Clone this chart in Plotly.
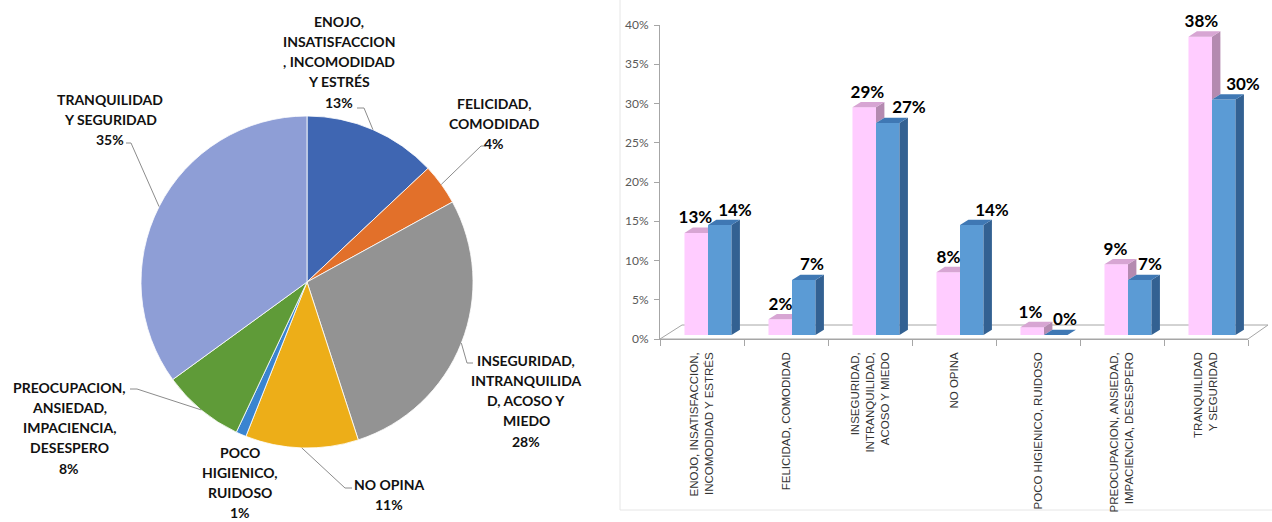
import math
import plotly.graph_objects as go

# ---------------- data ----------------
pie_names = [
    "ENOJO,<br>INSATISFACCION<br>, INCOMODIDAD<br>Y ESTRÉS",
    "FELICIDAD,<br>COMODIDAD",
    "INSEGURIDAD,<br>INTRANQUILIDA<br>D, ACOSO Y<br>MIEDO",
    "NO OPINA",
    "POCO<br>HIGIENICO,<br>RUIDOSO",
    "PREOCUPACION,<br>ANSIEDAD,<br>IMPACIENCIA,<br>DESESPERO",
    "TRANQUILIDAD<br>Y SEGURIDAD",
]
pie_values = [13, 4, 28, 11, 1, 8, 35]

bar_categories = [
    "ENOJO, INSATISFACCION,<br>INCOMODIDAD Y ESTRÉS",
    "FELICIDAD, COMODIDAD",
    "INSEGURIDAD,<br>INTRANQUILIDAD,<br>ACOSO Y MIEDO",
    "NO OPINA",
    "POCO HIGIENICO, RUIDOSO",
    "PREOCUPACION, ANSIEDAD,<br>IMPACIENCIA, DESESPERO",
    "TRANQUILIDAD<br>Y SEGURIDAD",
]
serie_rosa = [0.13, 0.02, 0.29, 0.08, 0.01, 0.09, 0.38]
serie_azul = [0.14, 0.07, 0.27, 0.14, 0.00, 0.07, 0.30]
y_tick_vals = [0.00, 0.05, 0.10, 0.15, 0.20, 0.25, 0.30, 0.35, 0.40]

# ---------------- styles / layout geometry ----------------
W, H = 1272, 522


def px(x):
    return x / W


def py(y):
    return 1 - y / H


pie_colors = ["#3F66B2", "#E2702A", "#939393", "#EDAE18", "#3A84D0", "#5F9B38", "#8E9ED6"]
PIE_CX, PIE_CY, PIE_R = 307, 282, 166

# label block: centre x, first-line y ; leader path after the slice edge (elbow, end)
pie_label_pos = [(339, 21), (494, 103), (526, 360), (389, 484), (240, 452), (69, 387), (110, 99)]
pie_leaders = [
    [(364, 108), (357, 108)],
    [(481, 146), (486, 146)],
    [(467, 363), (473, 363)],
    [(345, 488), (352, 488)],
    None,
    [(137, 389), (130, 389)],
    [(131, 143), (126, 143)],
]
LINE_STEP = 20.3

PINK, PINK_TOP, PINK_SIDE = "#FFCCFF", "#D7A5D3", "#B48AB0"
BLUE, BLUE_TOP, BLUE_SIDE = "#5B9BD5", "#3F78B4", "#336192"
AXIS_GREY = "#A6A6A6"

CAT_PX = 84.0              # width of one category in pixels
BAR_W = 0.28               # bar width in category units
DX, DY = 0.10, 0.0068      # 3-D depth offsets (category units, value units)
label_shift_rosa = [-5, -4, -1, -4, -6, -5, -3]   # px
label_shift_azul = [11, 4, 17, 16, 5, 6, 15]      # px

fig = go.Figure()

# ---------------- pie ----------------
fig.add_trace(go.Pie(
    values=pie_values,
    labels=[n.replace("<br>", " ") for n in pie_names],
    sort=False,
    direction="clockwise",
    rotation=0,
    marker=dict(colors=pie_colors, line=dict(color="rgba(255,255,255,0.8)", width=1)),
    textinfo="none",
    hoverinfo="label+percent",
    showlegend=False,
    domain=dict(x=[px(PIE_CX - PIE_R), px(PIE_CX + PIE_R)],
                y=[py(PIE_CY + PIE_R), py(PIE_CY - PIE_R)]),
))

annotations = []
shapes = []
total = sum(pie_values)
cum = 0
for name, val, (lx, ly), leader in zip(pie_names, pie_values, pie_label_pos, pie_leaders):
    mid = (cum + val / 2) / total
    cum += val
    ang = 2 * math.pi * mid
    ex = PIE_CX + PIE_R * math.sin(ang)
    ey = PIE_CY - PIE_R * math.cos(ang)
    lines = name.split("<br>") + [f"{round(100 * val / total)}%"]
    for k, txt in enumerate(lines):
        annotations.append(dict(
            x=px(lx), y=py(ly + k * LINE_STEP), xref="paper", yref="paper",
            text=txt, showarrow=False, xanchor="center", yanchor="middle",
            font=dict(family="Lato", size=14, color="#111111", weight="bold"),
        ))
    if leader:
        pts = [(ex, ey)] + leader
        path = "M " + " L ".join(f"{px(a)},{py(b)}" for a, b in pts)
        shapes.append(dict(type="path", path=path, xref="paper", yref="paper",
                           line=dict(color="#8C8C8C", width=1)))

# ---------------- 3-D style bars ----------------
n = len(bar_categories)
xs = list(range(n))

# invisible traces so the front axes (value scale and category labels) get drawn
fig.add_trace(go.Scatter(x=[xs[0]], y=[0], mode="markers", marker=dict(opacity=0),
                         xaxis="x", yaxis="y", hoverinfo="skip", showlegend=False))
fig.add_trace(go.Scatter(x=[xs[0]], y=[0], mode="markers", marker=dict(opacity=0),
                         xaxis="x3", yaxis="y", hoverinfo="skip", showlegend=False))

fig.add_trace(go.Bar(x=xs, y=serie_rosa, width=BAR_W, offset=-BAR_W,
                     marker=dict(color=PINK, line=dict(width=0)),
                     xaxis="x2", yaxis="y2", showlegend=False))
fig.add_trace(go.Bar(x=xs, y=serie_azul, width=BAR_W, offset=0,
                     marker=dict(color=BLUE, line=dict(width=0)),
                     xaxis="x2", yaxis="y2", showlegend=False))


def face(pts, color):
    fig.add_trace(go.Scatter(
        x=[p[0] for p in pts] + [pts[0][0]],
        y=[p[1] for p in pts] + [pts[0][1]],
        mode="lines", fill="toself", fillcolor=color, line=dict(width=0, color=color),
        xaxis="x2", yaxis="y2", hoverinfo="skip", showlegend=False, cliponaxis=False,
    ))


for i in xs:
    vp, vb = serie_rosa[i], serie_azul[i]
    pl, pr = i - BAR_W, i            # pink bar edges
    bl, br = i, i + BAR_W            # blue bar edges
    # pink side, only the part standing above the blue bar
    if vp > vb:
        face([(pr, vb), (pr + DX, vb + DY), (pr + DX, vp + DY), (pr, vp)], PINK_SIDE)
        face([(pl, vp), (pr, vp), (pr + DX, vp + DY), (pl + DX, vp + DY)], PINK_TOP)
    else:
        face([(pl, vp), (pr, vp), (pr, vp + DY), (pl + DX, vp + DY)], PINK_TOP)
    # blue side and top
    face([(br, 0), (br + DX, DY), (br + DX, vb + DY), (br, vb)], BLUE_SIDE)
    face([(bl, vb), (br, vb), (br + DX, vb + DY), (bl + DX, vb + DY)], BLUE_TOP)

# value labels
for serie, centre, shifts in ((serie_rosa, -BAR_W / 2, label_shift_rosa),
                              (serie_azul, BAR_W / 2, label_shift_azul)):
    fig.add_trace(go.Scatter(
        x=[i + centre + DX / 2 + s / CAT_PX for i, s in zip(xs, shifts)],
        y=[v + DY for v in serie],
        text=[f"{v:.0%}" for v in serie],
        mode="text", textposition="top center",
        textfont=dict(family="Lato", size=17, color="#000000", weight="bold"),
        xaxis="x2", yaxis="y2", hoverinfo="skip", showlegend=False, cliponaxis=False,
    ))

# floor of the 3-D box
floor = [(660, 339), (682, 325), (1268, 325), (1248, 339)]
shapes.append(dict(type="path", xref="paper", yref="paper", layer="below",
                   path="M " + " L ".join(f"{px(a)},{py(b)}" for a, b in floor) + " Z",
                   line=dict(color=AXIS_GREY, width=1)))
# light frame around the column chart
shapes.append(dict(type="rect", xref="paper", yref="paper", layer="below",
                   x0=px(620), x1=px(1280), y0=py(510), y1=py(-5),
                   line=dict(color="#E6E6E6", width=1)))

front_x = [px(660), px(1248)]
front_y = [py(339), py(25)]
fig.update_layout(
    width=W, height=H, autosize=False,
    margin=dict(l=0, r=0, t=0, b=0, autoexpand=False),
    paper_bgcolor="white", plot_bgcolor="rgba(0,0,0,0)",
    barmode="overlay",
    annotations=annotations, shapes=shapes,
    xaxis=dict(domain=front_x, range=[-0.5, n - 0.5], anchor="y", automargin=False,
               showline=True, linecolor=AXIS_GREY, linewidth=1,
               ticks="outside", ticklen=6, tickcolor=AXIS_GREY,
               tickvals=[k - 0.5 for k in range(n + 1)],
               showticklabels=False, showgrid=False, zeroline=False, fixedrange=True),
    xaxis3=dict(overlaying="x", anchor="y", side="bottom", range=[-0.5, n - 0.5],
                automargin=False,
                tickvals=xs, ticktext=bar_categories, tickangle=-90,
                ticks="", showline=False, showgrid=False, zeroline=False,
                ticklabelstandoff=10, fixedrange=True,
                tickfont=dict(family="Liberation Sans", size=11.5, color="#333333")),
    yaxis=dict(domain=front_y, range=[0, 0.40], anchor="x", automargin=False,
               tickvals=y_tick_vals, tickformat=".0%",
               showline=True, linecolor=AXIS_GREY, linewidth=1,
               ticks="outside", ticklen=5, tickcolor=AXIS_GREY,
               ticklabelstandoff=3,
               tickfont=dict(family="Lato", size=12, color="#595959"),
               showgrid=False, zeroline=False, fixedrange=True),
    xaxis2=dict(domain=[px(666), px(1254)], range=[-0.5, n - 0.5], anchor="y2",
                visible=False, automargin=False),
    yaxis2=dict(domain=[py(335), py(21)], range=[0, 0.40], anchor="x2",
                visible=False, automargin=False),
)

fig.write_html("out.html", config={"displayModeBar": False})
